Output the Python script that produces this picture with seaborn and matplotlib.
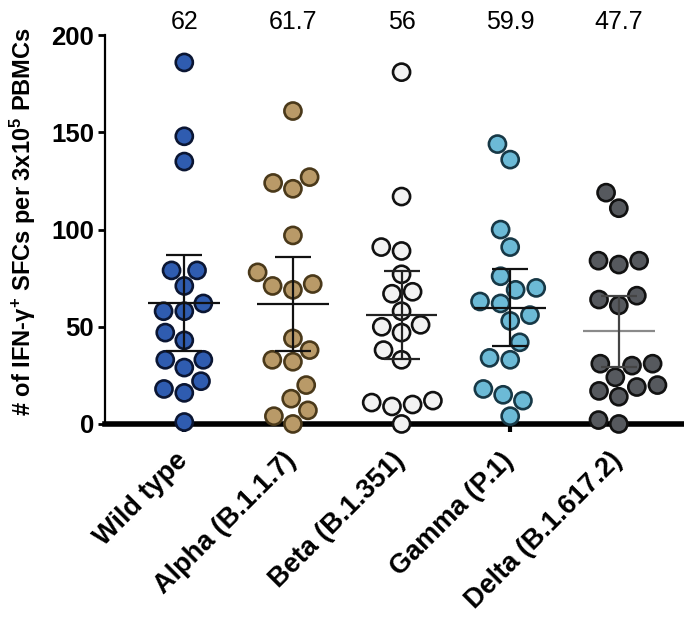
import numpy as np
import pandas as pd
import matplotlib
matplotlib.use('Agg')
import matplotlib.pyplot as plt
import matplotlib.transforms as mtransforms
import seaborn as sns

variants = ['Wild type', 'Alpha (B.1.1.7)', 'Beta (B.1.351)', 'Gamma (P.1)', 'Delta (B.1.617.2)']
wild_type = [186, 148, 135, 79, 79, 71, 62, 58, 58, 47, 43, 33, 33, 29, 22, 16, 18, 1]
alpha = [161, 121, 127, 124, 97, 78, 69, 72, 71, 44, 38, 32, 33, 20, 13, 7, 4, 0]
beta = [181, 117, 89, 91, 77, 67, 68, 58, 51, 50, 47, 38, 33, 9, 12, 10, 11, 0]
gamma = [144, 136, 100, 91, 76, 70, 69, 63, 62, 56, 53, 42, 34, 33, 18, 15, 12, 4]
delta = [119, 111, 82, 84, 84, 61, 66, 64, 31, 31, 30, 24, 20, 17, 19, 14, 0, 2]
mean_labels = ['62', '61.7', '56', '59.9', '47.7']

fill_colors = ['#2f5cb0', '#b99a68', '#f2f2f2', '#6cbad6', '#56595e']
edge_colors = ['#0b1633', '#4a391a', '#111111', '#173846', '#111111']
mean_colors = ['#111111', '#111111', '#222222', '#111111', '#8a8a8a']
bar_colors = ['#111111', '#111111', '#222222', '#111111', '#444444']

groups = [wild_type, alpha, beta, gamma, delta]
df = pd.DataFrame({
    'variant': np.repeat(variants, [len(g) for g in groups]),
    'sfc': np.concatenate(groups),
})

sns.set_style('ticks', {'axes.edgecolor': 'black', 'text.color': 'black',
                        'axes.labelcolor': 'black', 'xtick.color': 'black',
                        'ytick.color': 'black'})
plt.rcParams['font.family'] = ['Liberation Sans', 'DejaVu Sans']
plt.rcParams['mathtext.fontset'] = 'custom'
plt.rcParams['mathtext.rm'] = 'Liberation Sans:bold'
plt.rcParams['mathtext.it'] = 'Liberation Sans:bold'
plt.rcParams['mathtext.bf'] = 'Liberation Sans:bold'

fig = plt.figure(figsize=(6.84, 6.18), dpi=100)
ax = fig.add_axes([0.1535, 0.314, 0.8465, 0.629])

sns.swarmplot(data=df, x='variant', y='sfc', hue='variant', order=variants,
              palette=fill_colors, size=12.3, linewidth=1.9, legend=False, ax=ax)
for coll, ec in zip(ax.collections, edge_colors):
    coll.set_edgecolor(ec)
    coll.set_clip_on(False)
    coll.set_zorder(3)

# mean and 95% CI (t for n=18)
for i, g in enumerate(groups):
    vals = np.array(g, dtype=float)
    m = vals.mean()
    half = 2.110 * vals.std(ddof=1) / np.sqrt(len(vals))
    ax.hlines(m, i - 0.33, i + 0.33, color=mean_colors[i], lw=1.6, zorder=4)
    ax.errorbar(i, m, yerr=half, fmt='none', ecolor=bar_colors[i],
                elinewidth=1.6, capsize=13, capthick=1.6, zorder=4)
    ax.text(i, 207, mean_labels[i], ha='center', va='center', fontsize=18,
            clip_on=False)

ax.set_xlim(-0.73, 4.6)
ax.set_ylim(0, 200)
ax.set_yticks([0, 50, 100, 150, 200])
ax.set_xlabel('')
ax.set_ylabel(r'# of IFN-$\gamma^{+}$ SFCs per 3x10$^{5}$ PBMCs',
              fontsize=17, fontweight='bold', labelpad=4)
ax.yaxis.set_label_coords(-0.115, 0.52)
ax.set_xticks(range(len(variants)))
ax.set_xticklabels(variants, rotation=45, ha='right', rotation_mode='anchor',
                   fontsize=19.5, fontweight='bold')
for lab in ax.get_yticklabels():
    lab.set_fontsize(18.5)
    lab.set_fontweight('bold')

sns.despine(ax=ax)
ax.spines['bottom'].set_linewidth(4)
ax.spines['left'].set_linewidth(1.6)
ax.tick_params(axis='x', length=6, width=3, pad=11)
ax.tick_params(axis='y', length=5, width=2, pad=3)

# nudge the rotated labels a little to the left
shift = mtransforms.ScaledTranslation(-7 / 72, 0, fig.dpi_scale_trans)
for lab in ax.get_xticklabels():
    lab.set_transform(lab.get_transform() + shift)

fig.savefig('out.png', dpi=100)
